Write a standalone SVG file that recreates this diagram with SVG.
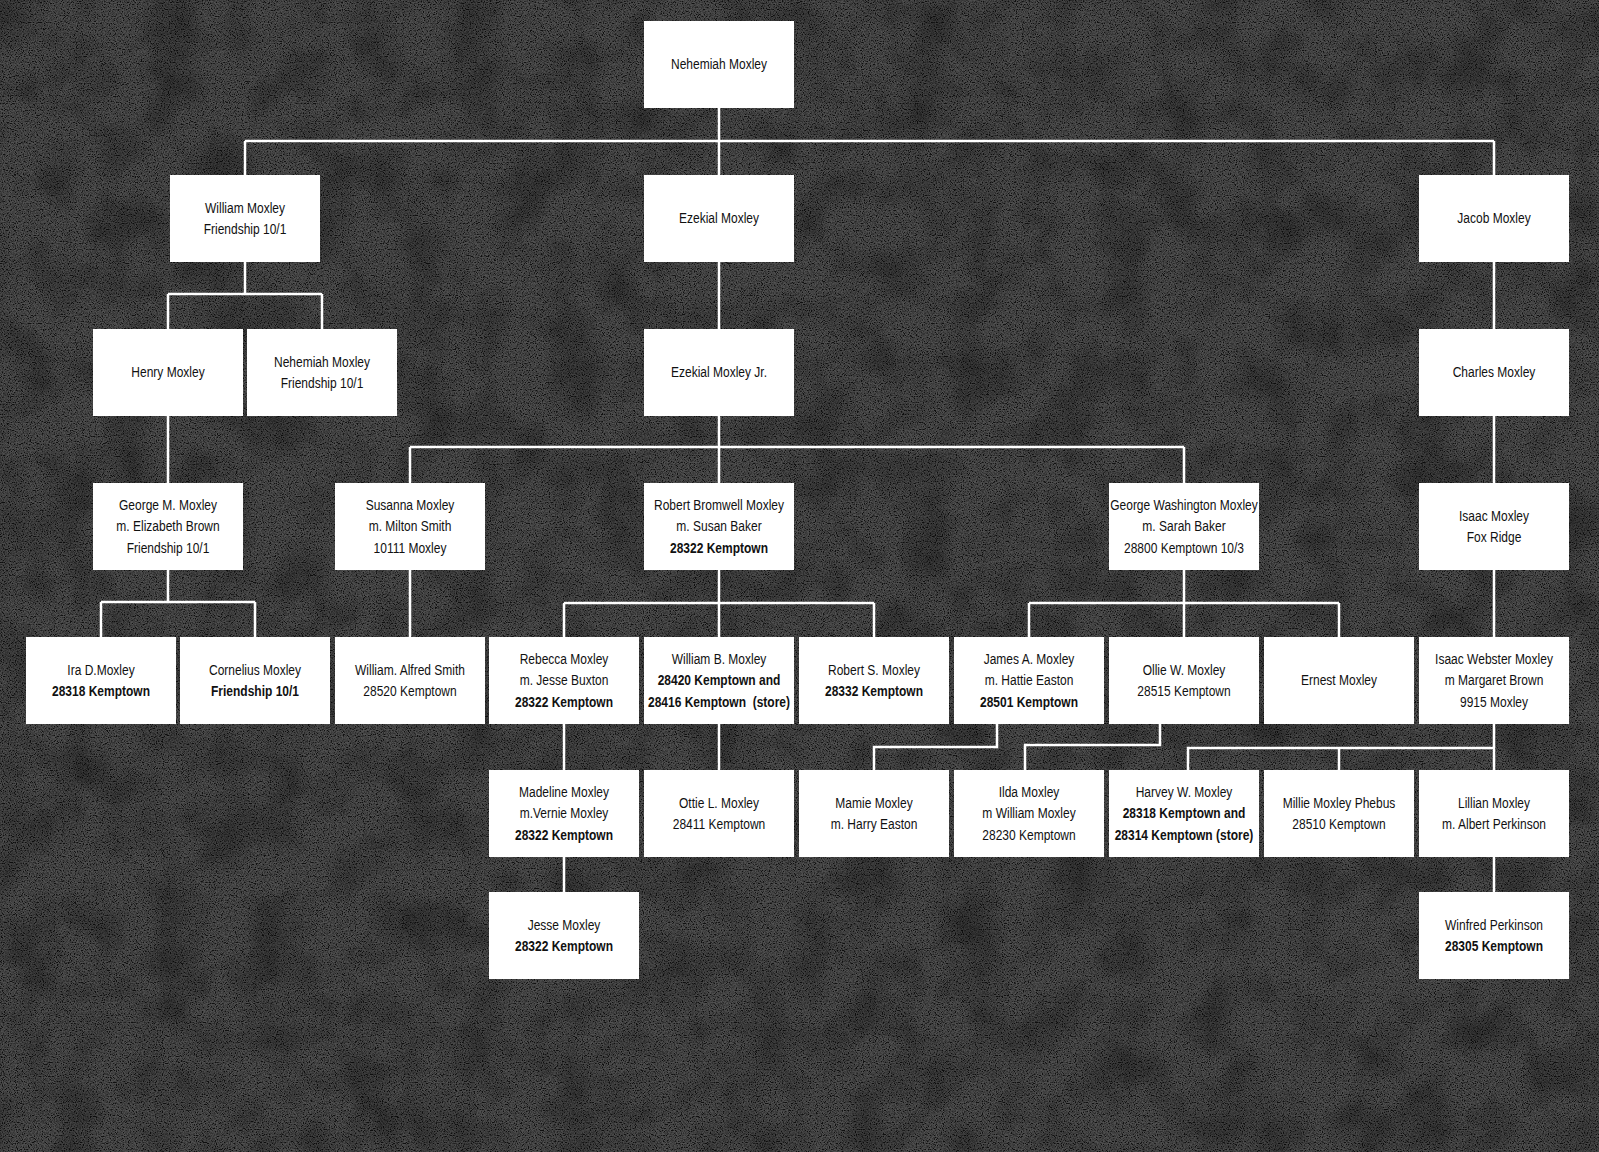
<svg xmlns="http://www.w3.org/2000/svg" width="1599" height="1152" viewBox="0 0 1599 1152">
<style>
.box{fill:#ffffff;}
.t{font-family:"Liberation Sans Narrow","Liberation Sans",Arial,sans-serif;font-size:15px;fill:#111;text-anchor:middle;}
.b{font-weight:bold;}
.c{fill:none;stroke:#ffffff;stroke-width:2.5;}
</style>
<defs>
<filter id="noise" x="0" y="0" width="1599" height="1152" filterUnits="userSpaceOnUse">
<feTurbulence type="fractalNoise" baseFrequency="0.85" numOctaves="2" seed="7" result="t"/>
<feColorMatrix in="t" type="matrix" values="1 0 0 0 0  1 0 0 0 0  1 0 0 0 0  0 0 0 0 1" result="g"/>
<feComponentTransfer in="g"><feFuncR type="linear" slope="2.6" intercept="-0.8"/><feFuncG type="linear" slope="2.6" intercept="-0.8"/><feFuncB type="linear" slope="2.6" intercept="-0.8"/></feComponentTransfer>
</filter>
<filter id="blot" x="0" y="0" width="1599" height="1152" filterUnits="userSpaceOnUse">
<feTurbulence type="fractalNoise" baseFrequency="0.02" numOctaves="3" seed="4" result="t"/>
<feColorMatrix in="t" type="matrix" values="0 0 0 0 0  0 0 0 0 0  0 0 0 0 0  2.2 0 0 0 -0.9"/>
</filter>
</defs>
<rect x="0" y="0" width="1599" height="1152" fill="#161616"/>
<rect x="0" y="0" width="1599" height="1152" filter="url(#noise)" opacity="0.26"/>
<rect x="0" y="0" width="1599" height="1152" filter="url(#blot)" opacity="0.3"/>

<g id="connectors" class="c">
<path d="M719 108V141M245 141H1494M245 141V175M719 141V175M1494 141V175"/>
<path d="M245 262V294M168 294H322M168 294V329M322 294V329"/>
<path d="M719 262V329"/>
<path d="M719 416V447M410 447H1184M410 447V483M719 447V483M1184 447V483"/>
<path d="M1494 262V329M1494 416V483M1494 570V637M1494 857V892"/>
<path d="M168 416V483"/>
<path d="M168 570V602M101 602H255M101 602V637M255 602V637"/>
<path d="M410 570V637"/>
<path d="M719 570V603M564 603H874M564 603V637M719 603V637M874 603V637"/>
<path d="M1184 570V603M1029 603H1339M1029 603V637M1184 603V637M1339 603V637"/>
<path d="M564 724V770M564 857V892"/>
<path d="M719 724V770"/>
<path d="M997 724V747H874V770"/>
<path d="M1160 724V745H1025V770"/>
<path d="M1494 724V770M1494 748H1188V770M1339 748V770"/>
</g>

<g id="n_nehemiah"><rect class="box" x="644" y="21" width="150" height="87"/><g transform="matrix(0.8 0 0 1 143.8 0)"><text class="t" x="719" y="69.5">Nehemiah Moxley</text></g></g>

<g id="n_william"><rect class="box" x="170" y="175" width="150" height="87"/><g transform="matrix(0.8 0 0 1 49 0)"><text class="t" x="245" y="212.75">William Moxley</text><text class="t" x="245" y="234.25">Friendship 10/1</text></g></g>
<g id="n_ezekial"><rect class="box" x="644" y="175" width="150" height="87"/><g transform="matrix(0.8 0 0 1 143.8 0)"><text class="t" x="719" y="223.5">Ezekial Moxley</text></g></g>
<g id="n_jacob"><rect class="box" x="1419" y="175" width="150" height="87"/><g transform="matrix(0.8 0 0 1 298.8 0)"><text class="t" x="1494" y="223.5">Jacob Moxley</text></g></g>

<g id="n_henry"><rect class="box" x="93" y="329" width="150" height="87"/><g transform="matrix(0.8 0 0 1 33.6 0)"><text class="t" x="168" y="377.5">Henry Moxley</text></g></g>
<g id="n_nehemiah2"><rect class="box" x="247" y="329" width="150" height="87"/><g transform="matrix(0.8 0 0 1 64.4 0)"><text class="t" x="322" y="366.75">Nehemiah Moxley</text><text class="t" x="322" y="388.25">Friendship 10/1</text></g></g>
<g id="n_ezekialjr"><rect class="box" x="644" y="329" width="150" height="87"/><g transform="matrix(0.8 0 0 1 143.8 0)"><text class="t" x="719" y="377.5">Ezekial Moxley Jr.</text></g></g>
<g id="n_charles"><rect class="box" x="1419" y="329" width="150" height="87"/><g transform="matrix(0.8 0 0 1 298.8 0)"><text class="t" x="1494" y="377.5">Charles Moxley</text></g></g>

<g id="n_georgem"><rect class="box" x="93" y="483" width="150" height="87"/><g transform="matrix(0.8 0 0 1 33.6 0)"><text class="t" x="168" y="510">George M. Moxley</text><text class="t" x="168" y="531.5">m. Elizabeth Brown</text><text class="t" x="168" y="553">Friendship 10/1</text></g></g>
<g id="n_susanna"><rect class="box" x="335" y="483" width="150" height="87"/><g transform="matrix(0.8 0 0 1 82 0)"><text class="t" x="410" y="510">Susanna Moxley</text><text class="t" x="410" y="531.5">m. Milton Smith</text><text class="t" x="410" y="553">10111 Moxley</text></g></g>
<g id="n_robertb"><rect class="box" x="644" y="483" width="150" height="87"/><g transform="matrix(0.8 0 0 1 143.8 0)"><text class="t" x="719" y="510">Robert Bromwell Moxley</text><text class="t" x="719" y="531.5">m. Susan Baker</text><text class="t b" x="719" y="553">28322 Kemptown</text></g></g>
<g id="n_georgew"><rect class="box" x="1109" y="483" width="150" height="87"/><g transform="matrix(0.8 0 0 1 236.8 0)"><text class="t" x="1184" y="510">George Washington Moxley</text><text class="t" x="1184" y="531.5">m. Sarah Baker</text><text class="t" x="1184" y="553">28800 Kemptown 10/3</text></g></g>
<g id="n_isaac"><rect class="box" x="1419" y="483" width="150" height="87"/><g transform="matrix(0.8 0 0 1 298.8 0)"><text class="t" x="1494" y="520.75">Isaac Moxley</text><text class="t" x="1494" y="542.25">Fox Ridge</text></g></g>

<g id="n_ira"><rect class="box" x="26" y="637" width="150" height="87"/><g transform="matrix(0.8 0 0 1 20.2 0)"><text class="t" x="101" y="674.75">Ira D.Moxley</text><text class="t b" x="101" y="696.25">28318 Kemptown</text></g></g>
<g id="n_cornelius"><rect class="box" x="180" y="637" width="150" height="87"/><g transform="matrix(0.8 0 0 1 51 0)"><text class="t" x="255" y="674.75">Cornelius Moxley</text><text class="t b" x="255" y="696.25">Friendship 10/1</text></g></g>
<g id="n_williama"><rect class="box" x="335" y="637" width="150" height="87"/><g transform="matrix(0.8 0 0 1 82 0)"><text class="t" x="410" y="674.75">William. Alfred Smith</text><text class="t" x="410" y="696.25">28520 Kemptown</text></g></g>
<g id="n_rebecca"><rect class="box" x="489" y="637" width="150" height="87"/><g transform="matrix(0.8 0 0 1 112.8 0)"><text class="t" x="564" y="664">Rebecca Moxley</text><text class="t" x="564" y="685.5">m. Jesse Buxton</text><text class="t b" x="564" y="707">28322 Kemptown</text></g></g>
<g id="n_williamb"><rect class="box" x="644" y="637" width="150" height="87"/><g transform="matrix(0.8 0 0 1 143.8 0)"><text class="t" x="719" y="664">William B. Moxley</text><text class="t b" x="719" y="685.5">28420 Kemptown and</text><text class="t b" x="719" y="707" xml:space="preserve">28416 Kemptown  (store)</text></g></g>
<g id="n_roberts"><rect class="box" x="799" y="637" width="150" height="87"/><g transform="matrix(0.8 0 0 1 174.8 0)"><text class="t" x="874" y="674.75">Robert S. Moxley</text><text class="t b" x="874" y="696.25">28332 Kemptown</text></g></g>
<g id="n_james"><rect class="box" x="954" y="637" width="150" height="87"/><g transform="matrix(0.8 0 0 1 205.8 0)"><text class="t" x="1029" y="664">James A. Moxley</text><text class="t" x="1029" y="685.5">m. Hattie Easton</text><text class="t b" x="1029" y="707">28501 Kemptown</text></g></g>
<g id="n_ollie"><rect class="box" x="1109" y="637" width="150" height="87"/><g transform="matrix(0.8 0 0 1 236.8 0)"><text class="t" x="1184" y="674.75">Ollie W. Moxley</text><text class="t" x="1184" y="696.25">28515 Kemptown</text></g></g>
<g id="n_ernest"><rect class="box" x="1264" y="637" width="150" height="87"/><g transform="matrix(0.8 0 0 1 267.8 0)"><text class="t" x="1339" y="685.5">Ernest Moxley</text></g></g>
<g id="n_isaacw"><rect class="box" x="1419" y="637" width="150" height="87"/><g transform="matrix(0.8 0 0 1 298.8 0)"><text class="t" x="1494" y="664">Isaac Webster Moxley</text><text class="t" x="1494" y="685.5">m Margaret Brown</text><text class="t" x="1494" y="707">9915 Moxley</text></g></g>

<g id="n_madeline"><rect class="box" x="489" y="770" width="150" height="87"/><g transform="matrix(0.8 0 0 1 112.8 0)"><text class="t" x="564" y="797">Madeline Moxley</text><text class="t" x="564" y="818.5">m.Vernie Moxley</text><text class="t b" x="564" y="840">28322 Kemptown</text></g></g>
<g id="n_ottie"><rect class="box" x="644" y="770" width="150" height="87"/><g transform="matrix(0.8 0 0 1 143.8 0)"><text class="t" x="719" y="807.75">Ottie L. Moxley</text><text class="t" x="719" y="829.25">28411 Kemptown</text></g></g>
<g id="n_mamie"><rect class="box" x="799" y="770" width="150" height="87"/><g transform="matrix(0.8 0 0 1 174.8 0)"><text class="t" x="874" y="807.75">Mamie Moxley</text><text class="t" x="874" y="829.25">m. Harry Easton</text></g></g>
<g id="n_ilda"><rect class="box" x="954" y="770" width="150" height="87"/><g transform="matrix(0.8 0 0 1 205.8 0)"><text class="t" x="1029" y="797">Ilda Moxley</text><text class="t" x="1029" y="818.5">m William Moxley</text><text class="t" x="1029" y="840">28230 Kemptown</text></g></g>
<g id="n_harvey"><rect class="box" x="1109" y="770" width="150" height="87"/><g transform="matrix(0.8 0 0 1 236.8 0)"><text class="t" x="1184" y="797">Harvey W. Moxley</text><text class="t b" x="1184" y="818.5">28318 Kemptown and</text><text class="t b" x="1184" y="840">28314 Kemptown (store)</text></g></g>
<g id="n_millie"><rect class="box" x="1264" y="770" width="150" height="87"/><g transform="matrix(0.8 0 0 1 267.8 0)"><text class="t" x="1339" y="807.75">Millie Moxley Phebus</text><text class="t" x="1339" y="829.25">28510 Kemptown</text></g></g>
<g id="n_lillian"><rect class="box" x="1419" y="770" width="150" height="87"/><g transform="matrix(0.8 0 0 1 298.8 0)"><text class="t" x="1494" y="807.75">Lillian Moxley</text><text class="t" x="1494" y="829.25">m. Albert Perkinson</text></g></g>

<g id="n_jesse"><rect class="box" x="489" y="892" width="150" height="87"/><g transform="matrix(0.8 0 0 1 112.8 0)"><text class="t" x="564" y="929.75">Jesse Moxley</text><text class="t b" x="564" y="951.25">28322 Kemptown</text></g></g>
<g id="n_winfred"><rect class="box" x="1419" y="892" width="150" height="87"/><g transform="matrix(0.8 0 0 1 298.8 0)"><text class="t" x="1494" y="929.75">Winfred Perkinson</text><text class="t b" x="1494" y="951.25">28305 Kemptown</text></g></g>
</svg>
